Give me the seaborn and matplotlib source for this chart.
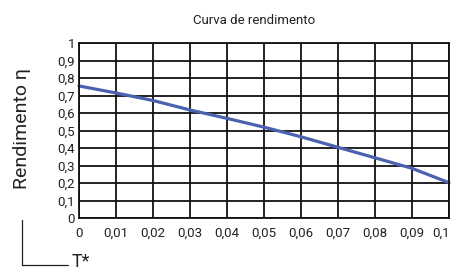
import matplotlib
matplotlib.use('Agg')
import matplotlib.pyplot as plt
import matplotlib.transforms as mtransforms
import seaborn as sns
import pandas as pd
from matplotlib.lines import Line2D

t_star = [0, 0.01, 0.02, 0.03, 0.04, 0.05, 0.06, 0.07, 0.08, 0.09, 0.1]
rendimento = [0.755, 0.715, 0.672, 0.618, 0.57, 0.52, 0.465, 0.405, 0.345, 0.285, 0.203]
x_ticks = [0, 0.01, 0.02, 0.03, 0.04, 0.05, 0.06, 0.07, 0.08, 0.09, 0.1]
x_labels = ['0', '0,01', '0,02', '0,03', '0,04', '0,05', '0,06', '0,07', '0,08', '0,09', '0,1']
y_ticks = [0, 0.1, 0.2, 0.3, 0.4, 0.5, 0.6, 0.7, 0.8, 0.9, 1]
y_labels = ['0', '0,1', '0,2', '0,3', '0,4', '0,5', '0,6', '0,7', '0,8', '0,9', '1']

df = pd.DataFrame({'T': t_star, 'eta': rendimento})

sns.set_theme(style="white")
plt.rcParams['font.family'] = ['Roboto', 'DejaVu Sans']

fig = plt.figure(figsize=(4.53, 2.7), dpi=100)
ax = fig.add_axes([0.1744, 0.1915, 0.8168, 0.6492])

sns.lineplot(data=df, x='T', y='eta', ax=ax, color='#4a62b0', linewidth=2.3, clip_on=False)

ax.set_xlim(0, 0.1)
ax.set_ylim(0, 1)
ax.set_xticks(x_ticks)
ax.set_xticklabels(x_labels)
ax.set_yticks(y_ticks)
ax.set_yticklabels(y_labels)
ax.tick_params(axis='both', length=0, labelsize=9.5, colors='#222222')
ax.tick_params(axis='x', pad=6)
ax.tick_params(axis='y', pad=3)
ax.grid(True, color='#111111', linewidth=1.3)
for s in ax.spines.values():
    s.set_color('#111111')
    s.set_linewidth(1.3)
ax.set_xlabel('')
ax.set_ylabel('')

# keep last x label inside the figure
last = ax.get_xticklabels()[-1]
last.set_horizontalalignment('right')
last.set_transform(last.get_transform() + mtransforms.ScaledTranslation(0.5 / 72, 0, fig.dpi_scale_trans))

fig.text(0.561, 0.925, 'Curva de rendimento', ha='center', va='center', fontsize=9.5, color='#222222')
fig.text(0.049, 0.525, 'Rendimento η', rotation=90, ha='center', va='center', fontsize=14, color='#222222')

# bracket for T* label
fig.add_artist(Line2D([0.0486, 0.0486], [0.185, 0.019], color='#222222', linewidth=0.9))
fig.add_artist(Line2D([0.0486, 0.150], [0.019, 0.019], color='#222222', linewidth=0.9))
fig.text(0.158, 0.03, 'T*', ha='left', va='center', fontsize=13, color='#222222')

plt.savefig('out.png', dpi=100)
